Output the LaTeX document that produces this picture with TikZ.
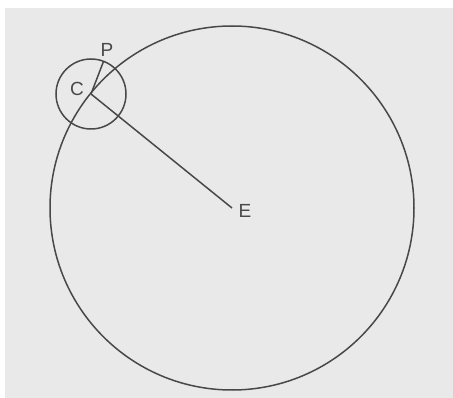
\documentclass[tikz,border=0pt]{standalone}
\usepackage{fontspec}
\setmainfont{Liberation Sans}
\usetikzlibrary{positioning,calc}
\definecolor{paper}{HTML}{E9E9E9}
\definecolor{ink}{HTML}{484848}

\begin{document}
\begin{tikzpicture}[
  x=1pt,y=-1pt,
  ln/.style={ink,line width=1.5pt},
  lbl/.style={font=\fontsize{19}{19}\selectfont,text=ink,inner sep=1pt}
]
% ---------------- page ----------------
\fill[white] (0,0) rectangle (453,398);
\fill[paper] (5,8) rectangle (453,398);
\useasboundingbox (0,0) rectangle (453,398);

% ---------------- points ----------------
\coordinate (E) at (232,208);
\coordinate (C) at (91,94);
\coordinate (P) at ($(C)+(-69:35)$);

% ---------------- circles and radii ----------------
\draw[ln] (E) circle[radius=182];
\draw[ln] (C) circle[radius=35];
\draw[ln] (C) -- (E);
\draw[ln] (C) -- (P);

% ---------------- labels ----------------
\node[lbl] (Clbl) at (77,89)  {C};
\node[lbl] (Plbl) at (107,50) {P};
\node[lbl] (Elbl) at (245,211) {E};
\end{tikzpicture}
\end{document}
